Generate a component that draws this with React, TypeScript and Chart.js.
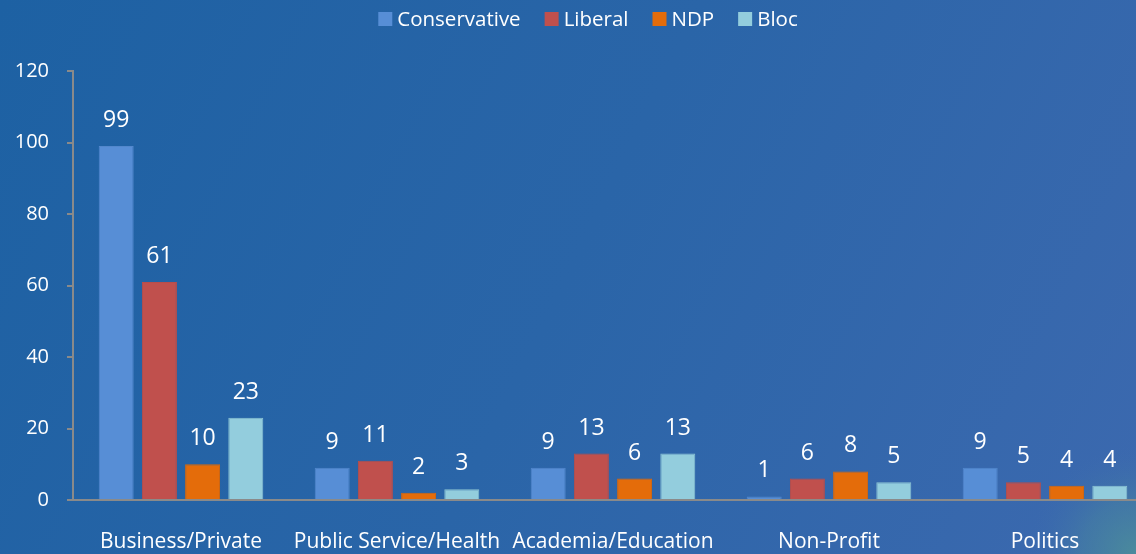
import React, { useEffect, useRef } from "react";
import { Chart, registerables } from "chart.js";

Chart.register(...registerables);

const categories = ["Business/Private", "Public Service/Health", "Academia/Education", "Non-Profit", "Politics"];
const seriesNames = ["Conservative", "Liberal", "NDP", "Bloc"];
const conservative = [99, 9, 9, 1, 9];
const liberal = [61, 11, 13, 6, 5];
const ndp = [10, 2, 6, 8, 4];
const bloc = [23, 3, 13, 5, 4];
const yTicks = [0, 20, 40, 60, 80, 100, 120];

const fills = ["#578ED6", "#C0504D", "#E46C0A", "#93CDDD"];
const borders = ["#5287CC", "#B84D4A", "#D9670A", "#8CC3D2"];
const FONT = "'Open Sans', 'Noto Sans', sans-serif";
const VIEW_W = 1136;
const VIEW_H = 554;
const CANVAS_W = 1153;

const bgPlugin = {
  id: "bg",
  beforeDraw(chart: any) {
    const { ctx, width, height } = chart;
    ctx.save();
    const g = ctx.createLinearGradient(0, 0, VIEW_W, VIEW_H);
    g.addColorStop(0, "#1D61A3");
    g.addColorStop(0.5, "#2A65A8");
    g.addColorStop(1, "#3C69AF");
    ctx.fillStyle = g;
    ctx.fillRect(0, 0, width, height);
    const r = ctx.createRadialGradient(VIEW_W, VIEW_H, 0, VIEW_W, VIEW_H, 110);
    r.addColorStop(0, "rgba(80,150,150,0.75)");
    r.addColorStop(0.5, "rgba(75,140,155,0.4)");
    r.addColorStop(1, "rgba(60,105,175,0)");
    ctx.fillStyle = r;
    ctx.fillRect(0, 0, width, height);
    ctx.restore();
  },
};

const legendPlugin = {
  id: "customLegend",
  afterDraw(chart: any) {
    const { ctx } = chart;
    ctx.save();
    ctx.font = `20.5px ${FONT}`;
    const box = 14;
    const gapText = 5;
    const gapItem = 24;
    const items = chart.data.datasets.map((d: any) => ({ label: d.label, color: d.backgroundColor, w: ctx.measureText(d.label).width }));
    const total = items.reduce((s: number, it: any) => s + box + gapText + it.w, 0) + gapItem * (items.length - 1);
    let x = 588 - total / 2;
    const cy = 19;
    ctx.textBaseline = "middle";
    ctx.textAlign = "left";
    items.forEach((it: any) => {
      ctx.fillStyle = it.color;
      ctx.fillRect(x, cy - box / 2, box, box);
      x += box + gapText;
      ctx.fillStyle = "#FFFFFF";
      ctx.fillText(it.label, x, cy + 1);
      x += it.w + gapItem;
    });
    ctx.restore();
  },
};

const labelPlugin = {
  id: "valueLabels",
  afterDatasetsDraw(chart: any) {
    const { ctx } = chart;
    ctx.save();
    ctx.font = `23px ${FONT}`;
    ctx.fillStyle = "#FFFFFF";
    ctx.textAlign = "center";
    ctx.textBaseline = "alphabetic";
    chart.data.datasets.forEach((ds: any, i: number) => {
      const meta = chart.getDatasetMeta(i);
      meta.data.forEach((bar: any, j: number) => {
        ctx.fillText(String(ds.data[j]), bar.x, bar.y - 19);
      });
    });
    ctx.restore();
  },
};

export default function App() {
  const ref = useRef<HTMLCanvasElement | null>(null);
  useEffect(() => {
    document.body.style.margin = "0";
    const values = [conservative, liberal, ndp, bloc];
    const chart = new Chart(ref.current as HTMLCanvasElement, {
      type: "bar",
      data: {
        labels: categories,
        datasets: seriesNames.map((name, i) => ({
          label: name,
          data: values[i],
          backgroundColor: fills[i],
          borderColor: borders[i],
          borderWidth: 1,
          categoryPercentage: 0.8,
          barPercentage: 0.81,
        })),
      },
      options: {
        animation: false,
        responsive: false,
        maintainAspectRatio: false,
        layout: { padding: { top: 71, right: 0, left: 0, bottom: 0 } },
        plugins: {
          legend: { display: false },
          tooltip: { enabled: false },
        },
        scales: {
          x: {
            offset: true,
            grid: { display: true, drawOnChartArea: false, drawTicks: false },
            border: { display: true, color: "#8A8A8A", width: 2 },
            ticks: { color: "#FFFFFF", font: { family: FONT, size: 21 }, padding: 29, maxRotation: 0, autoSkip: false },
            afterFit(scale: any) {
              scale.height = 54;
              scale.paddingLeft = 0;
              scale.paddingRight = 0;
            },
          },
          y: {
            min: 0,
            max: 120,
            afterBuildTicks(scale: any) {
              scale.ticks = yTicks.map((v) => ({ value: v }));
            },
            grid: { drawOnChartArea: false, drawTicks: true, tickLength: 6, color: "#8A8A8A", lineWidth: 2 },
            border: { display: true, color: "#8A8A8A", width: 2 },
            ticks: { color: "#FFFFFF", font: { family: FONT, size: 20 }, padding: 18 },
            afterFit(scale: any) {
              scale.width = 73;
            },
          },
        },
      },
      plugins: [bgPlugin, legendPlugin, labelPlugin],
    });
    return () => chart.destroy();
  }, []);
  return (
    <div style={{ width: VIEW_W, height: VIEW_H, overflow: "hidden" }}>
      <canvas ref={ref} width={CANVAS_W} height={VIEW_H} style={{ display: "block" }} />
    </div>
  );
}
